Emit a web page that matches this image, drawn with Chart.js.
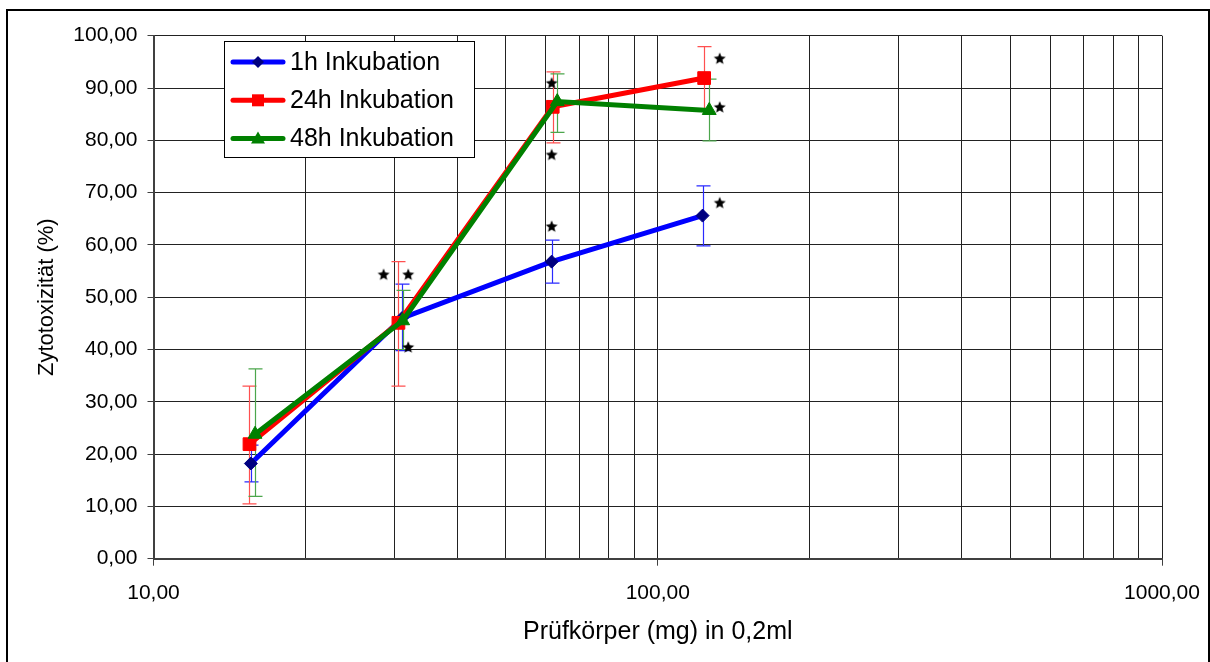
<!DOCTYPE html>
<html>
<head>
<meta charset="utf-8">
<title>Zytotoxizität</title>
<script src="https://cdn.jsdelivr.net/npm/chart.js@4.4.1/dist/chart.umd.min.js"></script>
<style>
    body { margin: 0; background: #fff; }
    #wrap { position: relative; width: 1210px; height: 662px; overflow: hidden; }
    #frame { position: absolute; left: 6px; top: 9px; width: 1204px; height: 700px; border: 2px solid #000; box-sizing: border-box; }
    #myChart { position: absolute; left: 0; top: 0; }
</style>
</head>
<body>
<div id="wrap">
    <div id="frame"></div>
    <canvas id="myChart" width="1210" height="662"></canvas>
</div>
<script>
// Prüfkörper (mg) per series, read per point
const x1h = [15.6, 31.1, 61.6, 122.7];
const y1h = [18.2, 46.0, 56.8, 65.6];
const hi1h = [21.7, 52.5, 60.9, 71.3];
const lo1h = [14.7, 39.8, 52.7, 59.8];

const x24h = [15.5, 30.6, 61.9, 123.6];
const y24h = [21.9, 45.1, 86.4, 91.9];
const hi24h = [33.0, 56.8, 93.1, 97.9];
const lo24h = [10.5, 33.0, 79.5, 86.0];

const x48h = [15.9, 31.2, 63.2, 126.5];
const y48h = [23.8, 45.5, 87.4, 85.7];
const hi48h = [36.3, 51.3, 92.7, 91.7];
const lo48h = [11.9, 40.0, 81.5, 79.9];

// significance markers
const starX = [28.6, 32.0, 32.0, 61.6, 61.6, 61.6, 132.7, 132.7, 132.7];
const starY = [54.4, 54.4, 40.5, 91.0, 77.3, 63.6, 95.7, 86.4, 68.1];

const seriesNames = ['1h Inkubation', '24h Inkubation', '48h Inkubation'];
const xTicks = [10, 20, 30, 40, 50, 60, 70, 80, 90, 100, 200, 300, 400, 500, 600, 700, 800, 900, 1000];
const xLabelled = [10, 100, 1000];
const yTicks = [0, 10, 20, 30, 40, 50, 60, 70, 80, 90, 100];

const FONT = '"Liberation Sans", Arial, sans-serif';

function fmt(v) {
    return Number(v).toFixed(2).replace('.', ',');
}

function points(xs, ys) {
    return xs.map((x, i) => ({ x: x, y: ys[i] }));
}

function makeStar() {
    const c = document.createElement('canvas');
    c.width = 14; c.height = 14;
    const g = c.getContext('2d');
    g.fillStyle = '#000';
    g.beginPath();
    for (let i = 0; i < 10; i++) {
        const r = i % 2 === 0 ? 6.3 : 2.8;
        const a = -Math.PI / 2 + i * Math.PI / 5;
        const px = 7 + r * Math.cos(a), py = 7.6 + r * Math.sin(a);
        if (i === 0) g.moveTo(px, py); else g.lineTo(px, py);
    }
    g.closePath();
    g.fill();
    return c;
}

const errorSets = [
    { xs: x1h, hi: hi1h, lo: lo1h, color: '#2a2aff' },
    { xs: x24h, hi: hi24h, lo: lo24h, color: '#ff5050' },
    { xs: x48h, hi: hi48h, lo: lo48h, color: '#4ca64c' }
];

// vertical error bars with caps, under the lines
const errorBars = {
    id: 'errorBars',
    beforeDatasetsDraw(chart) {
        const { ctx, scales: { x, y } } = chart;
        ctx.save();
        ctx.lineWidth = 1.2;
        errorSets.forEach(s => {
            ctx.strokeStyle = s.color;
            s.xs.forEach((xv, i) => {
                const px = Math.round(x.getPixelForValue(xv)) + 0.5;
                const top = y.getPixelForValue(s.hi[i]);
                const bot = y.getPixelForValue(s.lo[i]);
                ctx.beginPath();
                ctx.moveTo(px, top); ctx.lineTo(px, bot);
                ctx.moveTo(px - 7, top); ctx.lineTo(px + 7, top);
                ctx.moveTo(px - 7, bot); ctx.lineTo(px + 7, bot);
                ctx.stroke();
            });
        });
        ctx.restore();
    }
};

const legendStyles = [
    { line: '#0000ff', fill: '#000080', shape: 'diamond' },
    { line: '#ff0000', fill: '#ff0000', shape: 'square' },
    { line: '#008000', fill: '#008000', shape: 'triangle' }
];

// legend box inside the plot area, top left
const boxLegend = {
    id: 'boxLegend',
    afterDraw(chart) {
        const ctx = chart.ctx;
        ctx.save();
        ctx.fillStyle = '#fff';
        ctx.fillRect(224, 41, 251, 117);
        ctx.strokeStyle = '#000';
        ctx.lineWidth = 1;
        ctx.strokeRect(224.5, 41.5, 250, 116);
        ctx.font = '25px ' + FONT;
        ctx.textBaseline = 'middle';
        seriesNames.forEach((name, i) => {
            const st = legendStyles[i];
            const cy = 62 + i * 38.3;
            ctx.strokeStyle = st.line;
            ctx.lineWidth = 5;
            ctx.lineCap = 'round';
            ctx.beginPath();
            ctx.moveTo(233, cy); ctx.lineTo(283, cy);
            ctx.stroke();
            ctx.fillStyle = st.fill;
            ctx.beginPath();
            if (st.shape === 'diamond') {
                ctx.moveTo(258, cy - 6); ctx.lineTo(264, cy); ctx.lineTo(258, cy + 6); ctx.lineTo(252, cy);
            } else if (st.shape === 'square') {
                ctx.rect(252, cy - 6, 12, 12);
            } else {
                ctx.moveTo(258, cy - 7); ctx.lineTo(265, cy + 5); ctx.lineTo(251, cy + 5);
            }
            ctx.closePath();
            ctx.fill();
            ctx.fillStyle = '#000';
            ctx.fillText(name, 290, cy + 1);
        });
        ctx.restore();
    }
};

function chartZytotox() {
    const ctx = document.getElementById('myChart');

    new Chart(ctx, {
        type: 'scatter',
        data: {
            datasets: [{
                label: seriesNames[0],
                data: points(x1h, y1h),
                showLine: true,
                borderColor: '#0000ff',
                borderWidth: 5,
                pointStyle: 'rectRot',
                pointRadius: 6.5,
                pointBackgroundColor: '#000080',
                pointBorderColor: '#000080',
                pointBorderWidth: 1,
                order: 3
            }, {
                label: seriesNames[1],
                data: points(x24h, y24h),
                showLine: true,
                borderColor: '#ff0000',
                borderWidth: 5,
                pointStyle: 'rect',
                pointRadius: 9,
                pointBackgroundColor: '#ff0000',
                pointBorderColor: '#ff0000',
                pointBorderWidth: 1,
                order: 2
            }, {
                label: seriesNames[2],
                data: points(x48h, y48h),
                showLine: true,
                borderColor: '#008000',
                borderWidth: 5,
                pointStyle: 'triangle',
                pointRadius: 8,
                pointBackgroundColor: '#008000',
                pointBorderColor: '#008000',
                pointBorderWidth: 1,
                order: 1
            }, {
                label: 'signifikant',
                data: points(starX, starY),
                showLine: false,
                pointStyle: makeStar(),
                pointRadius: 7,
                order: 0
            }]
        },
        options: {
            responsive: false,
            devicePixelRatio: 1,
            animation: false,
            layout: {
                padding: { top: 35.7, right: 48, left: 0, bottom: 0 }
            },
            plugins: {
                legend: { display: false },
                tooltip: { enabled: false }
            },
            scales: {
                x: {
                    type: 'logarithmic',
                    min: 10,
                    max: 1000,
                    afterBuildTicks: scale => {
                        scale.ticks = xTicks.map(v => ({ value: v }));
                    },
                    afterFit: scale => {
                        scale.height = 103.3;
                        scale.paddingLeft = 0;
                        scale.paddingRight = 0;
                    },
                    ticks: {
                        autoSkip: false,
                        maxRotation: 0,
                        padding: 15,
                        color: '#000',
                        font: { family: FONT, size: 21 },
                        callback: v => xLabelled.includes(v) ? fmt(v) : ''
                    },
                    grid: {
                        color: '#222',
                        lineWidth: 1,
                        tickLength: 7,
                        tickColor: c => (c.tick && xLabelled.includes(c.tick.value)) ? '#404040' : 'rgba(0,0,0,0)'
                    },
                    border: { color: '#404040', width: 2 },
                    title: {
                        display: true,
                        text: 'Prüfkörper (mg) in 0,2ml',
                        color: '#000',
                        font: { family: FONT, size: 25 },
                        padding: { top: 0, bottom: 15 }
                    }
                },
                y: {
                    min: 0,
                    max: 100,
                    afterBuildTicks: scale => {
                        scale.ticks = yTicks.map(v => ({ value: v }));
                    },
                    afterFit: scale => {
                        scale.width = 153.5;
                        scale.paddingTop = 0;
                        scale.paddingBottom = 0;
                    },
                    ticks: {
                        padding: 10,
                        color: '#000',
                        font: { family: FONT, size: 21 },
                        callback: v => fmt(v)
                    },
                    grid: {
                        color: '#222',
                        lineWidth: 1,
                        tickLength: 6,
                        tickColor: '#404040'
                    },
                    border: { color: '#404040', width: 2 },
                    title: {
                        display: true,
                        text: 'Zytotoxizität (%)',
                        color: '#000',
                        font: { family: FONT, size: 22 },
                        padding: { top: 34, bottom: 0 }
                    }
                }
            }
        },
        plugins: [errorBars, boxLegend]
    });
}

chartZytotox();
</script>
</body>
</html>
